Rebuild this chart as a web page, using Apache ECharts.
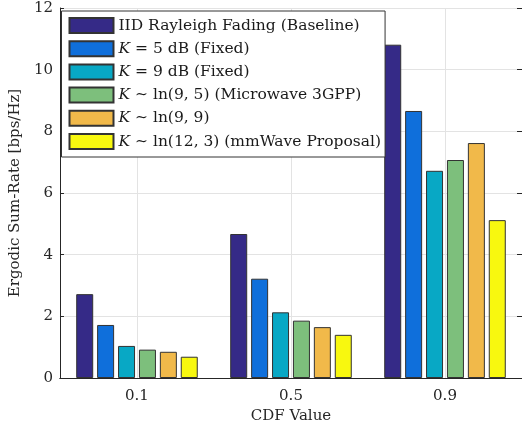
<!DOCTYPE html>
<html><head><meta charset="utf-8">
<script src="https://cdn.jsdelivr.net/npm/echarts@6/dist/echarts.min.js"></script>
<style>html,body{margin:0;padding:0;background:#fff}#c{width:522px;height:431px}</style>
</head><body><div id="c"></div>
<script>
const categories = ['0.1', '0.5', '0.9'];
const seriesNames = ['IID Rayleigh Fading (Baseline)', 'K = 5 dB (Fixed)', 'K = 9 dB (Fixed)', 'K ~ ln(9,5) (Microwave 3GPP)', 'K ~ ln(9,9)', 'K ~ ln(12,3) (mmWave Proposal)'];
const legendLabels = ['IID Rayleigh Fading (Baseline)', '{k|K} = 5 dB (Fixed)', '{k|K} = 9 dB (Fixed)', '{k|K} \u223C ln(9, 5) (Microwave 3GPP)', '{k|K} \u223C ln(9, 9)', '{k|K} \u223C ln(12, 3) (mmWave Proposal)'];
const iidValues = [2.72, 4.67, 10.81];
const k5Values = [1.72, 3.22, 8.66];
const k9Values = [1.04, 2.13, 6.72];
const ln95Values = [0.92, 1.86, 7.07];
const ln99Values = [0.85, 1.65, 7.62];
const ln123Values = [0.69, 1.40, 5.12];
const yTicks = [0, 2, 4, 6, 8, 10, 12];
const colors = ['#352a87', '#0f6fdb', '#08a8c5', '#7dbf7c', '#f1b94a', '#f8f80f'];

const allValues = [iidValues, k5Values, k9Values, ln95Values, ln99Values, ln123Values];
const font = 'DejaVu Serif';
const fs = 15;
const fsL = 15.5;
const chart = echarts.init(document.getElementById('c'));
const series = allValues.map((v, i) => ({
  name: seriesNames[i], type: 'bar', data: v, barWidth: 17, barGap: '23%', z: 3,
  itemStyle: { color: colors[i], borderColor: '#333', borderWidth: 1 }
}));
series.push({
  name: 'vgrid', type: 'line', data: [], z: 1, silent: true,
  markLine: {
    silent: true, symbol: 'none', label: { show: false }, z: 1,
    lineStyle: { color: '#e3e3e3', type: 'solid', width: 1 },
    data: categories.map(c => ({ xAxis: c }))
  }
});
chart.setOption({
  animation: false,
  grid: { left: 56.5, right: -2.5, top: 8, bottom: 53 },
  legend: {
    orient: 'vertical', left: 61.5, top: 11, padding: [6, 4, 7, 7],
    itemWidth: 44, itemHeight: 15, itemGap: 6.2, icon: 'rect',
    backgroundColor: '#fff', borderColor: '#333', borderWidth: 1,
    data: seriesNames,
    formatter: name => legendLabels[seriesNames.indexOf(name)],
    textStyle: { fontFamily: font, fontSize: fsL, lineHeight: 15, color: '#1a1a1a',
      rich: { k: { fontFamily: font, fontStyle: 'italic', fontSize: fsL, lineHeight: 15, color: '#1a1a1a' } } }
  },
  xAxis: [{
    type: 'category', data: categories, position: 'bottom',
    name: 'CDF Value', nameLocation: 'middle', nameGap: 30,
    nameTextStyle: { fontFamily: font, fontSize: fs, color: '#262626' },
    axisLine: { lineStyle: { color: '#262626', width: 1 } },
    axisTick: { inside: true, alignWithLabel: true, length: 4, lineStyle: { color: '#262626' } },
    axisLabel: { fontFamily: font, fontSize: fs, color: '#262626', margin: 11 },
    splitLine: { show: false }
  }, {
    type: 'category', data: categories, position: 'top',
    axisLine: { lineStyle: { color: '#262626', width: 1 } },
    axisTick: { inside: true, alignWithLabel: true, length: 4, lineStyle: { color: '#262626' } },
    axisLabel: { show: false }, splitLine: { show: false }
  }],
  yAxis: [{
    type: 'value', min: 0, max: 12, interval: 2,
    name: 'Ergodic Sum-Rate [bps/Hz]', nameLocation: 'middle', nameGap: 28,
    nameTextStyle: { fontFamily: font, fontSize: fs, color: '#262626' },
    axisLine: { show: true, lineStyle: { color: '#262626', width: 1 } },
    axisTick: { show: true, inside: true, length: 4, lineStyle: { color: '#262626' } },
    axisLabel: { fontFamily: font, fontSize: fs, color: '#262626', margin: 7 },
    splitLine: { show: true, lineStyle: { color: '#e3e3e3' } }
  }, {
    type: 'value', min: 0, max: 12, interval: 2, position: 'right',
    axisLine: { show: true, lineStyle: { color: '#262626', width: 1 } },
    axisTick: { show: true, inside: true, length: 5, lineStyle: { color: '#262626' } },
    axisLabel: { show: false }, splitLine: { show: false }
  }],
  series: series
});
</script></body></html>
